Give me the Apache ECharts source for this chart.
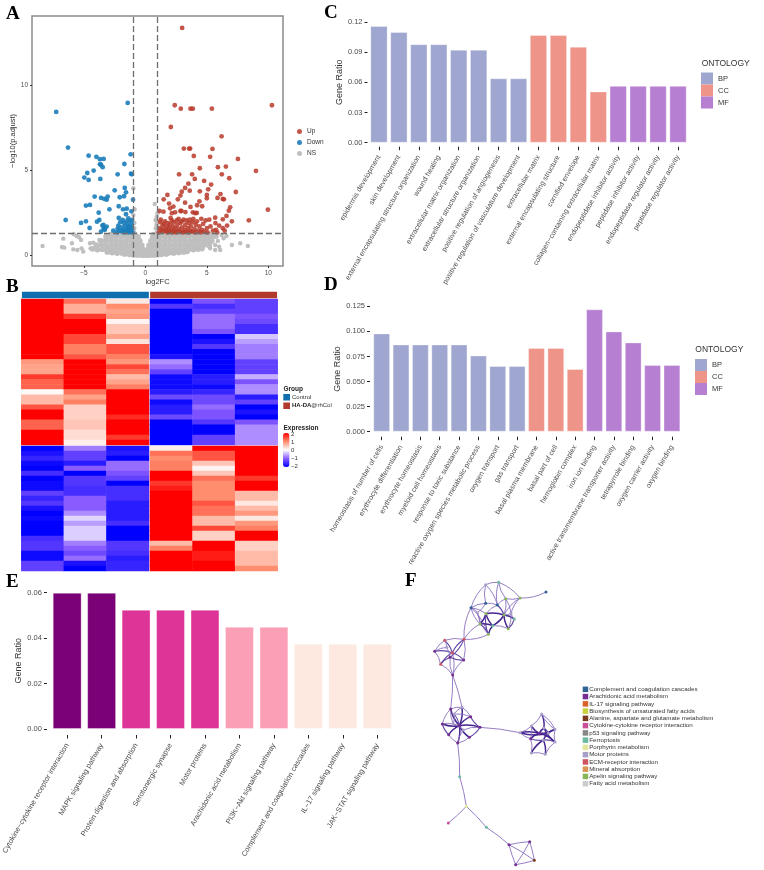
<!DOCTYPE html>
<html><head><meta charset="utf-8">
<style>html,body{margin:0;padding:0;background:#fff}#c{width:764px;height:870px}</style>
<script src="https://cdn.jsdelivr.net/npm/echarts@6/dist/echarts.min.js"></script>
</head><body><div id="c"></div>
<script>
// ---------- Panel A : volcano ----------
const upPoints=[[2.99,13.4],[2.39,8.84],[2.88,8.64],[3.67,8.64],[3.86,8.64],[5.41,8.64],[10.3,8.84],[2.07,7.56],[6.2,7.01],[3.13,6.29],[3.56,6.29],[3.64,6.29],[5.46,6.27],[3.94,5.85],[5.27,5.8],[7.53,5.68],[4.43,5.13],[5.9,5.19],[6.55,5.23],[9,4.97],[2.74,4.77],[3.8,4.77],[4.02,4.5],[6.22,4.77],[6.82,4.54],[4.78,4.38],[3.5,4.22],[5.35,4.17],[3.23,3.97],[5.11,3.89],[2.96,3.75],[3.61,3.81],[4.43,3.77],[7.36,3.73],[6.11,3.61],[5,3.56],[1.79,3.56],[2.85,3.52],[1.49,3.3],[2.64,3.3],[5,3.36],[5.87,3.38],[6.3,3.32],[6.39,3.3],[1.93,3.05],[3.23,3.1],[4.4,3.18],[4.21,2.95],[2.28,2.87],[3.67,2.85],[2.01,2.77],[4.62,2.89],[6.9,2.83],[6.79,2.63],[9.97,2.69],[1.14,2.61],[1.47,2.57],[2.85,2.61],[2.93,2.61],[3.26,2.55],[3.86,2.53],[4.05,2.48],[4.18,2.5],[2.42,2.53],[2.15,2.48],[6.6,2.32],[5.68,2.22],[6.3,2.12],[7.04,2],[8.42,2.06],
[1.1,1.35],[1.15,1.6],[1.2,1.95],[1.25,2.1],[1.3,1.5],[1.4,1.75],[1.45,1.4],[1.5,1.85],[1.55,1.55],[1.6,2],[1.7,1.45],[1.75,1.7],[1.8,1.35],[1.85,1.9],[1.9,1.6],[1.95,1.4],[2,1.8],[2.05,2.2],[2.1,1.5],[2.15,2.05],[2.2,1.35],[2.25,1.7],[2.3,1.95],[2.35,1.45],[2.45,1.6],[2.5,1.35],[2.55,2.05],[2.6,1.8],[2.65,1.4],[2.7,2.15],[2.75,1.55],[2.85,1.9],[2.9,1.4],[2.95,2],[3,1.65],[3.05,1.35],[3.1,2.1],[3.2,1.5],[3.25,1.8],[3.3,1.38],[3.35,2.05],[3.45,1.6],[3.5,1.35],[3.55,1.9],[3.6,2.1],[3.65,1.45],[3.7,1.7],[3.8,1.4],[3.85,1.95],[3.9,2.15],[4,1.55],[4.05,1.35],[4.1,1.8],[4.2,2],[4.3,1.45],[4.4,1.7],[4.5,1.35],[4.55,2.15],[4.6,1.5],[4.7,1.85],[4.8,1.4],[4.9,2.05],[5,1.6],[5.05,1.35],[5.2,2.1],[5.3,1.7],[5.5,1.45],[5.7,1.9],[5.75,1.5],[5.85,1.35],[6,1.75],[6.3,1.6],[6.45,1.45],[6.65,1.75]];
const downPoints=[[-1.44,8.98],[-7.26,8.45],[-6.3,6.35],[-4.62,5.87],[-3.99,5.8],[-3.7,5.66],[-3.4,5.68],[-1.2,5.95],[-3.7,5.36],[-3.61,5.34],[-1.71,5.38],[-3.48,5.19],[-4.21,4.99],[-4.73,4.85],[-2.26,4.77],[-1.17,4.81],[-1.11,4.77],[-4.97,4.58],[-4.62,4.44],[-3.67,4.5],[-1.68,3.97],[-2.5,3.83],[-1.58,3.71],[-1.74,3.48],[-4.13,3.46],[-3.07,3.46],[-3.61,3.38],[-2.09,3.42],[-3.34,3.32],[-3.15,3.28],[-1.01,3.28],[-4.84,2.93],[-4.51,2.97],[-2.17,2.89],[-2.93,2.71],[-1.82,2.71],[-1.52,2.75],[-1.14,2.59],[-3.8,2.51],[-1.58,2.42],[-2.17,2.2],[-3.75,2.08],[-6.49,2.08],[-4.84,2],[-5.24,1.91],[-3.94,1.98],[-1.85,2.08],[-1.39,2.18],[-1.09,2.08],[-3.42,1.79],[-4.54,1.61],[-3.15,1.69],[-3.31,1.59],[-3.61,1.39],[-2.61,1.45],[-2.26,1.57],
[-1.05,1.35],[-1.1,1.6],[-1.12,1.85],[-1.2,1.45],[-1.25,1.7],[-1.3,2],[-1.35,1.35],[-1.4,1.55],[-1.45,1.8],[-1.5,1.4],[-1.55,2],[-1.6,1.5],[-1.65,1.7],[-1.7,1.35],[-1.75,1.9],[-1.8,1.5],[-1.9,1.4],[-1.95,1.65],[-2.05,1.95],[-2.1,1.45],[-2.2,1.75],[-2.3,1.35],[-3.4,1.55],[-3.3,1.5],[-3.5,1.75],[-1.15,1.4],[-1.28,1.5],[-1.38,1.7]];
const nsCorePoints=[[-1.7,.08],[-1.3,.06],[-1,.03],[-.7,.02],[-.4,.02],[-.15,.01],[.15,.01],[.4,.02],[.7,.02],[1,.04],[1.3,.06],[1.7,.08],
[-3.1,.2],[-2.7,.16],[-2.3,.13],[-1.9,.14],[-1.5,.17],[-1.1,.18],[-.7,.16],[-.35,.15],[-.12,.14],[.12,.14],[.35,.16],[.7,.18],[1.1,.17],[1.5,.16],[1.9,.15],[2.3,.14],[2.7,.17],[3.1,.2],[3.4,.24],
[-4.3,.38],[-3.9,.34],[-3.5,.36],[-3.1,.38],[-2.7,.35],[-2.3,.34],[-1.9,.37],[-1.5,.36],[-1.1,.35],[-.7,.37],[-.4,.35],[-.2,.33],[.2,.33],[.4,.36],[.7,.35],[1.1,.37],[1.5,.34],[1.9,.36],[2.3,.35],[2.7,.38],[3.1,.35],[3.5,.36],[3.9,.34],[4.3,.37],[4.6,.4],
[-4,.6],[-3.6,.62],[-3.2,.6],[-2.8,.58],[-2.4,.61],[-2,.6],[-1.6,.62],[-1.2,.59],[-.8,.6],[-.5,.61],[-.3,.58],[.3,.58],[.5,.6],[.8,.62],[1.2,.59],[1.6,.61],[2,.6],[2.4,.58],[2.8,.62],[3.2,.6],[3.6,.61],[4,.59],[4.4,.6],[4.8,.62],[5.2,.58],
[-3.6,.85],[-3.2,.87],[-2.8,.84],[-2.4,.86],[-2,.85],[-1.6,.83],[-1.2,.86],[-.8,.85],[-.45,.85],[.45,.85],[.8,.87],[1.2,.84],[1.6,.85],[2,.86],[2.4,.84],[2.8,.85],[3.2,.87],[3.6,.84],[4,.85],[4.4,.86],[4.8,.84],[5.1,.86],[5.4,.85],
[-3.2,1.1],[-2.8,1.08],[-2.4,1.1],[-2,1.12],[-1.6,1.09],[-1.2,1.1],[-.9,1.11],[-.6,1.08],[.6,1.08],[.9,1.1],[1.2,1.12],[1.6,1.09],[2,1.1],[2.4,1.11],[2.8,1.08],[3.2,1.1],[3.6,1.12],[4,1.09],[4.4,1.1],[4.8,1.08],[5.2,1.1],[5.6,1.12],
[-2.8,1.22],[-2.4,1.23],[-2,1.21],[-1.6,1.23],[-1.2,1.22],[-.85,1.23],[.7,1.22],[.95,1.23],[1.3,1.21],[1.7,1.23],[2.1,1.22],[2.5,1.21],[2.9,1.23],[3.3,1.22],[3.7,1.21],[4.1,1.23],[4.5,1.22],[4.9,1.21],[5.2,1.23]];
const nsOutlierPoints=[[-8.37,.55],[-6.79,.49],[-6.6,.45],[-6.68,.98],[-5.98,.71],[-5.82,1.24],[-5.6,1.14],[-5.4,1.06],[-5.24,.9],[-5.87,.35],[-5.54,.31],[-5.2,.41],[-5.06,.22],[-4.46,.41],[-4.24,.75],[-3.96,.51],[-4.51,.71],[-3.75,.9],
[7.72,.71],[8.34,.55],[7.04,.61],[6.36,1],[5.68,.61],[6,.51],[6.09,.31],[5.68,.31],[6.2,1.2],[5.8,1.1],[6.6,1.14],[5.27,.41],[5.9,.85],
[.76,3.03],[-.98,3.95],[-.87,2.71],[-.98,2.38],[.92,2.28],[.92,1.98],[.98,2.48],[.82,2.08],[-.9,1.9],[-.9,1.6],[.85,1.6],[.95,1.4],[-.95,1.4],[.9,1.8]];
const volcanoXTicks=[-5,0,5,10], volcanoYTicks=[0,5,10];
const cutoffs={fcLow:-1,fcHigh:1,p:1.3};

// ---------- Panel B : heatmap (rows top to bottom) ----------
const hmTopC1=[2,2,2,2,2,2,2,2,2,2,2,2,.9,.8,.8,1.6,1.3,1.3,.05,.6,.6,1.4,2,2,1.3,1.3,2,2,2];
const hmTopC2=[1.2,.7,.7,1.6,2,2,2,1.5,1.5,1.1,1.1,1.4,2,2,2,2,2,2,1.2,.8,1.1,.4,.4,.4,.5,.5,.3,.3,.15];
const hmTopC3=[.2,1,.8,.9,.1,.5,.5,.8,.25,1.4,1.4,1.1,.9,1.5,1.2,.6,.8,1.1,2,2,2,2,2,1.7,2,2,2,1.6,2];
const hmTopR1=[-2,-1.4,-2,-2,-2,-2,-2,-2,-2,-2,-2,-1.8,-.7,-.9,-1.3,-1.9,-1.9,-1.9,-1.7,-1.2,-1.9,-1.7,-1.7,-1.2,-2,-2,-2,-2,-2];
const hmTopR2=[-1.1,-1.5,-1.3,-.9,-.9,-.9,-1.1,-2,-1.8,-1.4,-2,-2,-2,-2,-2,-1.7,-1.7,-1.9,-1.6,-1.2,-1.2,-.9,-1.1,-1.1,-1.4,-2,-2,-1.3,-1.3];
const hmTopR3=[-1.3,-1.3,-1.3,-1.1,-1.2,-1.5,-1.5,-.35,-.6,-.8,-.8,-.8,-1.3,-1.3,-1.3,-.5,-1.1,-.7,-.7,-1.7,-1.3,-2,-1.8,-2,-1.1,-.7,-.7,-.7,-.7];
const hmBotC1=[-2,-1.8,-1.6,-1.9,-2,-1.5,-2,-1.9,-1.9,-1.3,-1.6,-1.4,-1.8,-2,-1.9,-2,-2,-2,-1.5,-1.4,-1.4,-1.9,-1.9,-1.3,-1.3];
const hmBotC2=[-.8,-1.3,-1.3,-1.7,-1,-2,-1.4,-1.4,-1.5,-1.5,-1,-1,-1,-.7,-.25,-.6,-.3,-.3,-.3,-.8,-1,-1.2,-.9,-1.8,-2];
const hmBotC3=[-1.8,-1.7,-2,-.9,-.9,-1.1,-1.3,-2,-1.5,-1.5,-1.5,-1.7,-1.7,-1.7,-1.7,-1.5,-2,-2,-2,-1.4,-1.4,-1.5,-1.7,-1.6,-1.6];
const hmBotR1=[.15,1.2,1,1.1,1.1,2,2,1.6,1.8,2,2,2,2,2,2,2,2,2,2,.6,1.1,2,2,2,2];
const hmBotR2=[2,1.4,1.4,.5,.1,.5,1.2,1,1,1,1,1.4,1.2,1.2,.6,.6,1.5,.4,.4,2,2,1.8,1.8,2,2];
const hmBotR3=[2,2,2,2,2,2,1.6,2,2,.6,.6,.2,.6,.9,.2,.9,1.1,2,2,.4,.4,.6,.6,.6,1];
const groupNames=['Control','HA-DA@rhCol'];
const groupColors=['#0f6fae','#b23a2c'];
const expressionLabels=['2','1','0','\u22121','\u22122'];

// ---------- Panel C ----------
const cTerms=['epidermis development','skin development','external encapsulating structure organization','wound healing','extracellular matrix organization','extracellular structure organization','positive regulation of angiogenesis','positive regulation of vasculature development','extracellular matrix','external encapsulating structure','cornified envelope','collagen\u2212containing extracellular matrix','endopeptidase inhibitor activity','peptidase inhibitor activity','endopeptidase regulator activity','peptidase regulator activity'];
const cBP=[.116,.110,.098,.098,.0925,.0925,.064,.064,null,null,null,null,null,null,null,null];
const cCC=[null,null,null,null,null,null,null,null,.107,.107,.0955,.051,null,null,null,null];
const cMF=[null,null,null,null,null,null,null,null,null,null,null,null,.0565,.0565,.0565,.0565];
// ---------- Panel D ----------
const dTerms=['homeostasis of number of cells','erythrocyte differentiation','erythrocyte homeostasis','myeloid cell homeostasis','response to toxic substance','reactive oxygen species metabolic process','oxygen transport','gas transport','basal plasma membrane','basal part of cell','hemoglobin complex','iron ion binding','active transmembrane transporter activity','tetrapyrrole binding','oxygen carrier activity','oxygen binding'];
const dBP=[.098,.087,.087,.087,.087,.076,.0655,.0655,null,null,null,null,null,null,null,null];
const dCC=[null,null,null,null,null,null,null,null,.0835,.0835,.0625,null,null,null,null,null];
const dMF=[null,null,null,null,null,null,null,null,null,null,null,.122,.1,.089,.0665,.0665];
const ontologyNames=['BP','CC','MF'];
const ontologyColors=['#9fa6cf','#ef9488','#b67fd2'];
// ---------- Panel E ----------
const ePathways=['Cytokine\u2212cytokine receptor interaction','MAPK signaling pathway','Protein digestion and absorption','Serotonergic synapse','Motor proteins','Arachidonic acid metabolism','PI3K\u2212Akt signaling pathway','Complement and coagulation cascades','IL\u221217 signaling pathway','JAK\u2212STAT signaling pathway'];
const eRatio=[.06,.06,.0525,.0525,.0525,.045,.045,.0375,.0375,.0375];
const eColors=['#7a0177','#7a0177','#dd3497','#dd3497','#dd3497','#fa9fb5','#fa9fb5','#fde9df','#fde9df','#fde9df'];
// ---------- Panel F : network ----------
const netTerms=['Complement and coagulation cascades','Arachidonic acid metabolism','IL-17 signaling pathway','Biosynthesis of unsaturated fatty acids','Alanine, aspartate and glutamate metabolism','Cytokine-cytokine receptor interaction','p53 signaling pathway','Ferroptosis','Porphyrin metabolism','Motor proteins','ECM-receptor interaction','Mineral absorption','Apelin signaling pathway','Fatty acid metabolism'];
const netColors=['#2f6393','#752f90','#d9622a','#c9d13a','#7a3b1e','#c94f9a','#868686','#6cb8a0','#e4e69a','#a79fc8','#cf5560','#d69550','#86b658','#cccccc'];
const netNodes=[[257,44,9],[296,37,7],[360,84,12],[317,86,12],[257,100,0],[292,105,0],[213,113,0],[258,131,12],[312,135,12],[343,147,7],[240,162,12],[278,167,7],[325,176,12],[265,193,12],[333,130,9],[232,128,9],[438,66,0],
[134,211,10],[192,208,10],[104,244,1],[157,248,10],[191,270,1],[122,283,10],[158,315,1],[140,232,9],[150,262,1],
[152,417,1],[186,412,9],[127,462,1],[178,467,1],[240,472,1],[146,494,1],[173,519,1],[208,502,1],[212,440,1],[162,432,9],[160,462,9],[190,480,9],
[425,432,9],[394,468,9],[360,488,9],[432,474,9],[465,478,9],[465,516,9],[436,553,9],[394,549,9],[392,506,1],[418,490,1],[430,510,9],[445,490,9],
[179,620,7],[199,709,8],[145,759,5],[259,772,7],[327,824,1],[389,815,1],[403,871,4],[347,884,1]];
const netEdges=[[0,1,1],[0,4,1],[0,6,1],[0,5,1],[1,5,1],[1,3,1],[1,2,1],[2,3,1],[2,14,1],[2,8,1],[3,8,1],[3,5,1],[4,6,1],[4,15,1],[4,5,1],[5,7,1],[5,8,2],[6,15,1],[6,7,1],[6,10,1],[6,13,1],[7,8,3],[7,10,3],[7,11,3],[7,13,2],[8,9,3],[8,11,3],[8,12,3],[8,14,1],[9,12,2],[9,14,1],[10,11,3],[10,13,2],[11,13,3],[11,12,1],[12,14,1],[15,10,1],[15,13,1],[2,16,1],[3,14,1],[6,18,1],[13,18,1],[10,18,1],
[17,18,1],[17,19,1],[17,20,2],[17,24,1],[18,20,2],[18,21,1],[18,25,2],[19,20,2],[19,22,1],[19,24,1],[20,21,2],[20,22,2],[20,23,1],[21,23,1],[22,23,1],[22,25,2],[25,21,2],[24,25,1],[25,23,1],[23,26,1],[23,27,1],
[29,26,3],[29,27,3],[29,28,3],[29,30,3],[29,31,3],[29,32,3],[29,33,3],[29,34,3],[29,35,2],[29,36,2],[29,37,2],[26,27,1],[26,28,1],[27,34,1],[34,30,2],[30,33,2],[33,32,1],[32,31,1],[31,28,2],[36,28,1],[37,30,1],[35,36,1],[36,37,1],[26,36,1],[27,35,1],[32,37,1],[35,34,1],[30,40,1],[32,50,1],
[38,41,3],[39,47,3],[40,47,3],[41,47,3],[42,47,3],[43,47,3],[44,48,3],[45,48,3],[46,47,3],[48,49,3],[49,41,2],[49,42,3],[49,40,3],[41,43,3],[38,39,1],[39,40,1],[40,46,1],[46,45,1],[45,44,1],[44,43,1],[43,42,1],[42,38,1],[46,48,2],[48,43,2],[39,46,1],[38,42,1],
[50,51,1],[51,52,1],[51,53,1],[53,54,1],[54,55,1],[55,56,1],[56,57,1],[57,54,1],[54,56,1],[55,57,1]];

const FF='"Liberation Sans",Arial,sans-serif', TC='#4d4d4d';

function catAxis(grid,terms,w,off,mar){return {gridIndex:grid,type:'category',data:terms,offset:off,
  axisLine:{show:false,onZero:false},axisTick:{show:true,length:3.5,alignWithLabel:true,lineStyle:{color:'#222',width:1}},
  axisLabel:{interval:0,rotate:60,fontSize:w,fontFamily:FF,color:TC,margin:mar}};}
function valAxis(grid,max,step,dec,gap,off){return {gridIndex:grid,type:'value',min:0,max:max,interval:step,offset:off,name:'Gene Ratio',nameLocation:'middle',nameGap:gap,
  nameTextStyle:{fontSize:9,fontFamily:FF,color:'#333'},splitLine:{show:false},axisLine:{show:false,onZero:false},
  axisTick:{show:true,length:3,lineStyle:{color:'#222',width:1}},
  axisLabel:{fontSize:7.5,fontFamily:FF,color:TC,margin:5,formatter:v=>v.toFixed(dec)}};}
function ontoSeries(ax,arrs){return arrs.map((d,i)=>({name:ontologyNames[i],type:'bar',stack:'s'+ax,xAxisIndex:ax,yAxisIndex:ax,data:d,barWidth:'87%',
  itemStyle:{color:ontologyColors[i],borderColor:'rgba(255,255,255,.35)',borderWidth:1}}));}
function ontoLegend(left,top){return {data:ontologyNames,orient:'vertical',left:left,top:top,itemWidth:12,itemHeight:12,itemGap:0,icon:'rect',selectedMode:false,padding:0,
  itemStyle:{borderWidth:0},textStyle:{fontSize:7.5,fontFamily:FF,color:'#333'}};}

const grids=[
 {left:32,top:16,width:251,height:250,show:true,borderColor:'#8a8a8a',borderWidth:1.5,backgroundColor:'#fff'}, //0 A
 {left:21.3,top:291.7,width:256.4,height:6.6}, //1 annotation
 {left:21.3,top:299,width:127.7,height:146}, //2
 {left:150,top:299,width:127.7,height:146}, //3
 {left:21.3,top:446,width:127.7,height:125}, //4
 {left:150,top:446,width:127.7,height:125}, //5
 {left:369,top:22,width:319,height:120.7}, //6 C
 {left:372,top:306.3,width:309.6,height:125.4}, //7 D
 {left:47.8,top:592.7,width:346.7,height:136.3}, //8 E
 {left:400,top:570,width:364,height:300} //9 F
];
const cols3=['1','2','3'];
function hmRows(n){return Array.from({length:n},(_,i)=>String(i));}
function hmSeries(idx,cols){const d=[];cols.forEach((c,x)=>c.forEach((v,y)=>d.push([x,y,v])));
  return {type:'heatmap',xAxisIndex:idx,yAxisIndex:idx,data:d,progressive:0,silent:true};}

const xAxes=[
 {gridIndex:0,type:'value',min:-9.23,max:11.2,name:'log2FC',nameLocation:'middle',nameGap:10,nameTextStyle:{fontSize:7.5,fontFamily:FF,color:'#333'},splitLine:{show:false},axisLine:{show:false,onZero:false},
  axisTick:{length:2,customValues:volcanoXTicks,lineStyle:{color:'#333'}},
  axisLabel:{customValues:volcanoXTicks,fontSize:6.5,fontFamily:FF,color:TC,margin:4,formatter:v=>String(v).replace('-','\u2212')}},
 {gridIndex:1,type:'category',data:groupNames,show:false},
 ...[2,3,4,5].map(i=>({gridIndex:i,type:'category',data:cols3,show:false})),
 catAxis(6,cTerms,7.2,4,9),catAxis(7,dTerms,7.2,5,9),catAxis(8,ePathways,7.4,6,9),
 {gridIndex:9,type:'value',min:0,max:1092,show:false}
];
const yAxes=[
 {gridIndex:0,type:'value',min:-.63,max:14.1,name:'\u2212log10(p.adjust)',nameLocation:'middle',nameGap:11,nameTextStyle:{fontSize:7.5,fontFamily:FF,color:'#333'},splitLine:{show:false},axisLine:{show:false,onZero:false},
  axisTick:{length:2,customValues:volcanoYTicks,lineStyle:{color:'#333'}},
  axisLabel:{customValues:volcanoYTicks,fontSize:6.5,fontFamily:FF,color:TC,margin:4}},
 {gridIndex:1,type:'value',min:0,max:1,show:false},
 {gridIndex:2,type:'category',data:hmRows(29),inverse:true,show:false},
 {gridIndex:3,type:'category',data:hmRows(29),inverse:true,show:false},
 {gridIndex:4,type:'category',data:hmRows(25),inverse:true,show:false},
 {gridIndex:5,type:'category',data:hmRows(25),inverse:true,show:false},
 valAxis(6,.12,.03,2,19,1.5),valAxis(7,.125,.025,3,21,2),valAxis(8,.06,.02,2,21,3),
 {gridIndex:9,type:'value',min:0,max:900,inverse:true,show:false}
];

function dot(name,data,color,op,size){return {name:name,type:'scatter',xAxisIndex:0,yAxisIndex:0,data:data,symbolSize:size,silent:true,itemStyle:{color:color,opacity:op}};}
function edgeLen(e){const a=netNodes[e[0]],b=netNodes[e[1]];return Math.hypot(a[0]-b[0],a[1]-b[1]);}

const series=[
 dot('NS',nsCorePoints,'#bfbfbf',1,5.8),
 dot('Down',downPoints,'#1b7dba',.9,4.8),
 Object.assign(dot('Up',upPoints,'#b73a2a',.85,4.8),{markLine:{silent:true,symbol:'none',label:{show:false},animation:false,
   lineStyle:{color:'#6e6e6e',type:[6,3],width:1.3},data:[{xAxis:cutoffs.fcLow},{xAxis:cutoffs.fcHigh},{yAxis:cutoffs.p}]}}),
 {name:groupNames[0],type:'bar',xAxisIndex:1,yAxisIndex:1,data:[1,null],barWidth:'99%',barGap:'-100%',itemStyle:{color:groupColors[0]}},
 {name:groupNames[1],type:'bar',xAxisIndex:1,yAxisIndex:1,data:[null,1],barWidth:'99%',barGap:'-100%',itemStyle:{color:groupColors[1]}},
 hmSeries(2,[hmTopC1,hmTopC2,hmTopC3]),
 hmSeries(3,[hmTopR1,hmTopR2,hmTopR3]),
 hmSeries(4,[hmBotC1,hmBotC2,hmBotC3]),
 hmSeries(5,[hmBotR1,hmBotR2,hmBotR3]),
 ...ontoSeries(6,[cBP,cCC,cMF]),
 ...ontoSeries(7,[dBP,dCC,dMF]),
 {type:'bar',xAxisIndex:8,yAxisIndex:8,data:eRatio,barWidth:'84%',itemStyle:{color:p=>eColors[p.dataIndex],borderColor:'rgba(255,255,255,.35)',borderWidth:1}},
 {type:'graph',coordinateSystem:'cartesian2d',xAxisIndex:9,yAxisIndex:9,layout:'none',silent:true,symbolSize:3,
  categories:netTerms.map((n,i)=>({name:n,itemStyle:{color:netColors[i]}})),
  data:netNodes.map((n,i)=>({name:'n'+i,value:[n[0],n[1]],category:n[2]})),
  links:netEdges.map(e=>({source:e[0],target:e[1],lineStyle:{
     color:e[2]===3?'#44248e':e[2]===2?'#6246a4':'#8a70c0',width:e[2]===3?1.5:e[2]===2?1.1:.9,opacity:1,
     curveness:(edgeLen(e)>100||e[0]>=50)?0.04:((e[0]+e[1])%2?.14:-.14)}})),
  label:{show:false},itemStyle:{borderWidth:0}},
 dot('NS',nsOutlierPoints,'#bfbfbf',1,4.4)
];
series[series.length-1].z=1;

function txt(x,y,s,o){return {type:'text',x:x,y:y,z:50,silent:true,style:Object.assign({text:s,fontFamily:FF,fontSize:8.5,fill:'#333',verticalAlign:'middle'},o||{})};}
const letterStyle={fontFamily:'"Liberation Serif",serif',fontWeight:'bold',fontSize:19,fill:'#000'};
const graphics=[
 txt(6,14,'A',letterStyle),txt(6,287,'B',letterStyle),txt(324,13,'C',letterStyle),txt(324,285,'D',letterStyle),txt(6,582,'E',letterStyle),txt(405,581,'F',letterStyle),
 txt(701.7,64,'ONTOLOGY'),txt(695.3,350,'ONTOLOGY'),
 txt(283.5,389,'Group',{fontSize:6.5,fontWeight:'bold',fill:'#222'}),
 txt(283.5,428,'Expression',{fontSize:6.5,fontWeight:'bold',fill:'#222'}),
 ...expressionLabels.map((s,i)=>txt(291,[434.7,442.5,450.2,458.5,466][i],s,{fontSize:6,fill:'#333'}))
];

const chart=echarts.init(document.getElementById('c'),null,{renderer:'canvas'});
chart.setOption({animation:false,backgroundColor:'#fff',textStyle:{fontFamily:FF},
 grid:grids,xAxis:xAxes,yAxis:yAxes,series:series,graphic:graphics,tooltip:{show:false},
 visualMap:[{type:'continuous',seriesIndex:[5,6,7,8],min:-2,max:2,calculable:false,left:283,top:433,itemWidth:6.5,itemHeight:34,padding:0,
   text:null,showLabel:false,inRange:{color:['#0000ff','#8a5cff','#ffffff','#ff8d6e','#ff0000']},textStyle:{fontSize:1,color:'transparent'}}],
 legend:[
  {data:['Up','Down','NS'],orient:'vertical',left:297,top:128,itemWidth:5,itemHeight:5,itemGap:4,selectedMode:false,padding:0,icon:'circle',textStyle:{fontSize:6.5,fontFamily:FF,color:'#333'}},
  {data:groupNames,orient:'vertical',left:283.3,top:394,itemWidth:6.7,itemHeight:6.5,itemGap:2,selectedMode:false,padding:0,icon:'rect',
   formatter:n=>n===groupNames[1]?'{b|HA-DA}@rhCol':n,textStyle:{fontSize:6,fontFamily:FF,color:'#333',padding:[0,0,0,-3],rich:{b:{fontWeight:'bold',fontSize:6,color:'#222'}}}},
  ontoLegend(701,72.5),ontoLegend(695,359),
  {data:netTerms,orient:'vertical',left:582.7,top:685.7,itemWidth:5.5,itemHeight:5.5,itemGap:0,selectedMode:false,padding:0,icon:'rect',itemStyle:{borderWidth:0},textStyle:{fontSize:6.2,fontFamily:FF,color:'#333',lineHeight:7.26,padding:[0,0,0,-4]}}
 ]
});
</script></body></html>
